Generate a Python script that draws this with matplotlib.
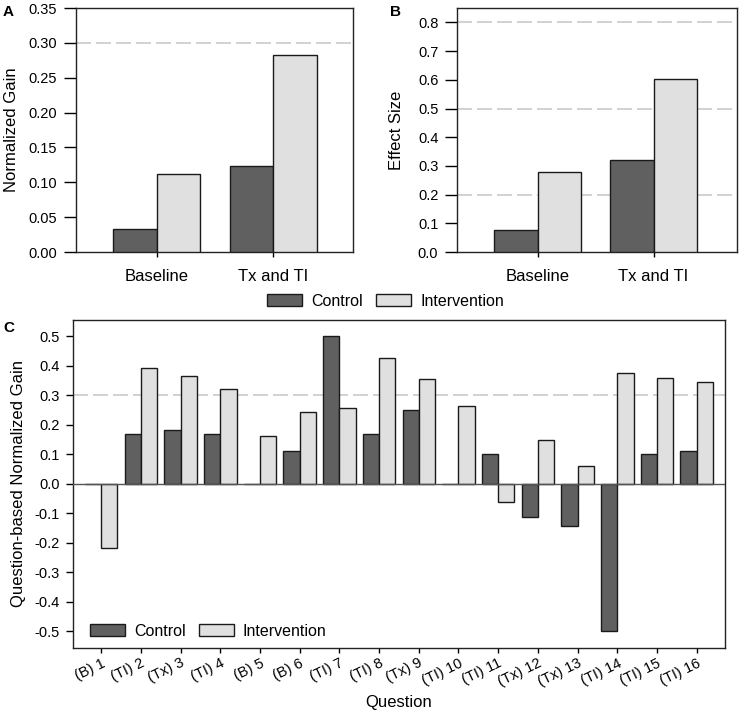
import matplotlib

matplotlib.use("Agg")
import matplotlib.pyplot as plt
from matplotlib.patches import Patch

plt.rcParams["font.family"] = ["Liberation Sans", "DejaVu Sans"]
plt.rcParams["axes.unicode_minus"] = False

DARK = "#5f605f"
LIGHT = "#e0e0e0"
EDGE = "#1a1a1a"
DASH = "#cacaca"

# panel A / B
groups = ["Baseline", "Tx and TI"]
gain_control = [0.033, 0.123]
gain_intervention = [0.112, 0.282]
effect_control = [0.076, 0.322]
effect_intervention = [0.280, 0.602]

# panel C
questions = ["(B) 1", "(TI) 2", "(Tx) 3", "(TI) 4", "(B) 5", "(B) 6", "(TI) 7", "(TI) 8",
             "(Tx) 9", "(TI) 10", "(TI) 11", "(Tx) 12", "(Tx) 13", "(TI) 14", "(TI) 15", "(TI) 16"]
q_control = [0.0, 0.168, 0.182, 0.168, 0.0, 0.111, 0.5, 0.168,
             0.25, 0.0, 0.1, -0.111, -0.144, -0.5, 0.1, 0.111]
q_intervention = [-0.217, 0.393, 0.364, 0.323, 0.163, 0.244, 0.257, 0.428,
                  0.356, 0.264, -0.063, 0.149, 0.062, 0.375, 0.36, 0.345]


def style_axis(ax, ylen):
    for spine in ax.spines.values():
        spine.set_linewidth(1.0)
        spine.set_color("#222222")
    ax.tick_params(axis="y", direction="out", length=ylen, width=1, pad=4.5, labelsize=10.5)
    ax.tick_params(axis="x", direction="out", length=3.5, width=1)


def grouped(ax, control, intervention, width):
    pos = list(range(1, len(control) + 1))
    ax.bar([p - width / 2 for p in pos], control, width, color=DARK, edgecolor=EDGE, linewidth=1, zorder=3)
    ax.bar([p + width / 2 for p in pos], intervention, width, color=LIGHT, edgecolor=EDGE, linewidth=1, zorder=3)
    return pos


handles = [Patch(facecolor=DARK, edgecolor=EDGE, label="Control"),
           Patch(facecolor=LIGHT, edgecolor=EDGE, label="Intervention")]
legend_kw = dict(ncol=2, frameon=False, fontsize=11.5, handlelength=2.2, handleheight=0.75,
                 columnspacing=0.85, handletextpad=0.55, borderpad=0, borderaxespad=0)

fig = plt.figure(figsize=(7.4, 7.1), dpi=100)

# A
ax_a = fig.add_axes([0.1027, 0.645, 0.374, 0.3437])
pos = grouped(ax_a, gain_control, gain_intervention, 0.37)
ax_a.axhline(0.3, color=DASH, linestyle=(0, (9, 3)), linewidth=1.2, zorder=1)
ax_a.set_xlim(0.31, 2.68)
ax_a.set_ylim(0, 0.35)
ax_a.set_yticks([i * 0.05 for i in range(8)])
ax_a.set_yticklabels([f"{i * 0.05:.2f}" for i in range(8)])
ax_a.set_xticks(pos)
ax_a.set_xticklabels(groups, fontsize=12)
ax_a.set_ylabel("Normalized Gain", fontsize=12)
ax_a.yaxis.set_label_coords(-0.205, 0.5)
style_axis(ax_a, 9)
ax_a.tick_params(axis="x", pad=8.5)
fig.text(0.004, 0.993, "A", fontweight="bold", fontsize=11, va="top")

# B
ax_b = fig.add_axes([0.6176, 0.645, 0.378, 0.3437])
pos = grouped(ax_b, effect_control, effect_intervention, 0.376)
for level in (0.2, 0.5, 0.8):
    ax_b.axhline(level, color=DASH, linestyle=(0, (9, 3)), linewidth=1.2, zorder=1)
ax_b.set_xlim(0.3, 2.72)
ax_b.set_ylim(0, 0.85)
ax_b.set_yticks([i * 0.1 for i in range(9)])
ax_b.set_yticklabels([f"{i * 0.1:.1f}" for i in range(9)])
ax_b.set_xticks(pos)
ax_b.set_xticklabels(groups, fontsize=12)
ax_b.set_ylabel("Effect Size", fontsize=12)
ax_b.yaxis.set_label_coords(-0.19, 0.5)
style_axis(ax_b, 9)
ax_b.tick_params(axis="x", pad=8.5)
fig.text(0.527, 0.993, "B", fontweight="bold", fontsize=11, va="top")

fig.legend(handles=handles, loc="center left", bbox_to_anchor=(0.361, 0.576), **legend_kw)

# C
ax_c = fig.add_axes([0.0986, 0.0877, 0.881, 0.4615])
pos = grouped(ax_c, q_control, q_intervention, 0.41)
ax_c.axhline(0.3, color=DASH, linestyle=(0, (9, 3)), linewidth=1.2, zorder=1)
ax_c.axhline(0, color="#555555", linewidth=1.0, zorder=4)
ax_c.set_xlim(0.29, 16.71)
ax_c.set_ylim(-0.555, 0.555)
ticks = [round(-0.5 + i * 0.1, 1) for i in range(11)]
ax_c.set_yticks(ticks)
ax_c.set_yticklabels([f"{t:.1f}" if t != 0 else "0.0" for t in ticks])
ax_c.set_xticks(pos)
ax_c.set_xticklabels(questions, rotation=26, ha="right", rotation_mode="anchor", fontsize=10.5)
ax_c.set_xlabel("Question", fontsize=12)
ax_c.xaxis.set_label_coords(0.5, -0.143)
ax_c.set_ylabel("Question-based Normalized Gain", fontsize=12)
ax_c.yaxis.set_label_coords(-0.072, 0.5)
style_axis(ax_c, 5)
ax_c.tick_params(axis="x", pad=2.5)
ax_c.legend(handles=handles, loc="center left", bbox_to_anchor=(0.026, 0.051), **legend_kw)
fig.text(0.004, 0.548, "C", fontweight="bold", fontsize=11, va="top")

fig.savefig("out.png", dpi=100)
